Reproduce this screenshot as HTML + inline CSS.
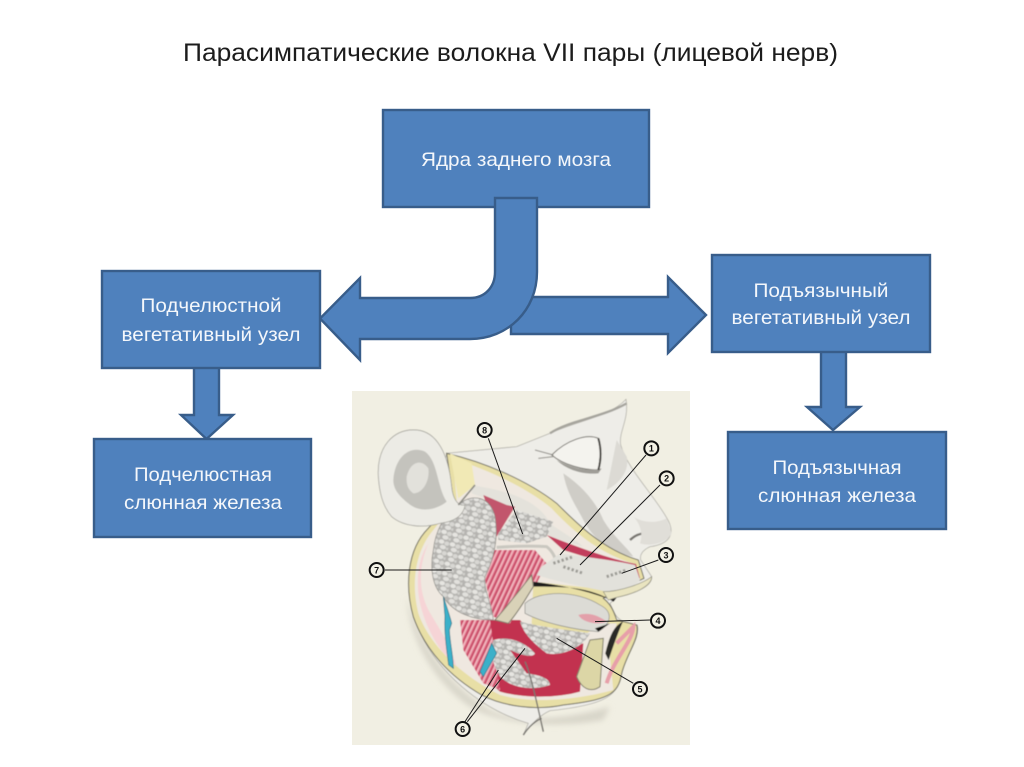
<!DOCTYPE html>
<html lang="ru">
<head>
<meta charset="utf-8">
<title>Парасимпатические волокна VII пары</title>
<style>
html,body{margin:0;padding:0;background:#fff;width:1024px;height:767px;overflow:hidden}
svg{display:block}
text{font-family:"Liberation Sans","DejaVu Sans",sans-serif}
.b{fill:#4f81bd;stroke:#385d8a;stroke-width:2.4}
.t{fill:#f4f7fb;font-size:19.500px;text-anchor:middle}
.n{font-size:27px;font-weight:bold;fill:#111;text-anchor:middle}
.c{fill:#f4f2e6;stroke:#111;stroke-width:6}
.l{stroke:#1a1a1a;stroke-width:3;fill:none}
</style>
</head>
<body>
<svg width="1024" height="767" viewBox="0 0 1024 767" xmlns="http://www.w3.org/2000/svg">
<defs>
<pattern id="g" width="34" height="30" patternUnits="userSpaceOnUse" patternTransform="rotate(15)">
<rect width="34" height="30" fill="#b5b4b0"/>
<ellipse cx="9" cy="8" rx="8.500" ry="6.500" fill="#e6e5e1"/>
<ellipse cx="26" cy="10" rx="7.500" ry="6.500" fill="#d8d7d3"/>
<ellipse cx="17" cy="23" rx="9.500" ry="6.500" fill="#e2e1dd"/>
<ellipse cx="32" cy="25" rx="5" ry="4" fill="#d2d1cd"/>
</pattern>
<pattern id="m" width="14" height="14" patternUnits="userSpaceOnUse" patternTransform="rotate(25)">
<rect width="14" height="14" fill="#d9607a"/>
<rect width="6" height="14" fill="#f0b4bc"/>
<rect x="10" width="2" height="14" fill="#b83a58"/>
</pattern>
<filter id="s"><feGaussianBlur stdDeviation="9"/></filter>
<filter id="bl"><feGaussianBlur stdDeviation="1.500"/></filter>
</defs>
<rect width="1024" height="767" fill="#fff"/>

<text x="510.500" y="61" fill="#1c1c1c" font-size="25px" text-anchor="middle" textLength="655" lengthAdjust="spacingAndGlyphs">Парасимпатические волокна VII пары  (лицевой нерв)</text>

<!-- top box -->
<rect class="b" x="383" y="110" width="266" height="97"/>
<text class="t" x="516" y="166" textLength="190" lengthAdjust="spacingAndGlyphs">Ядра заднего мозга</text>

<!-- right arrow -->
<path class="b" d="M511,297 H668 V277 L706,315 L668,353 V334 H511 Z"/>
<!-- bent left arrow -->
<path class="b" d="M495,198 H537 V272 C537,310 508,339 470,339 H360 V360 L320,318.500 L360,278 V298 H470 C485,298 495,287 495,272 Z"/>

<!-- left column -->
<path class="b" d="M194,367 H219 V415 H233 L206.500,439 L181,415 H194 Z"/>
<rect class="b" x="102" y="271" width="218" height="97"/>
<text class="t" x="211" y="312" textLength="141" lengthAdjust="spacingAndGlyphs">Подчелюстной</text>
<text class="t" x="211" y="341" textLength="179" lengthAdjust="spacingAndGlyphs">вегетативный узел</text>
<rect class="b" x="94" y="439" width="217" height="98"/>
<text class="t" x="203" y="481" textLength="138" lengthAdjust="spacingAndGlyphs">Подчелюстная</text>
<text class="t" x="203" y="509" textLength="158" lengthAdjust="spacingAndGlyphs">слюнная железа</text>

<!-- right column -->
<path class="b" d="M821,351 H846 V407 H860 L833,430 L807,407 H821 Z"/>
<rect class="b" x="712" y="255" width="218" height="97"/>
<text class="t" x="821" y="297" textLength="135" lengthAdjust="spacingAndGlyphs">Подъязычный</text>
<text class="t" x="821" y="324" textLength="179" lengthAdjust="spacingAndGlyphs">вегетативный узел</text>
<rect class="b" x="728" y="432" width="218" height="97"/>
<text class="t" x="837" y="474" textLength="129" lengthAdjust="spacingAndGlyphs">Подъязычная</text>
<text class="t" x="837" y="502" textLength="158" lengthAdjust="spacingAndGlyphs">слюнная железа</text>

<!-- illustration -->
<g transform="translate(350,390) scale(.33333)">
<rect x="6" y="3" width="1014" height="1062" fill="#f1efe3"/>
<g filter="url(#bl)">
<!-- soft shadow -->
<path d="M170,620 C220,800 320,900 420,960 C500,1000 650,990 780,950 L760,990 C620,1015 450,1005 360,950 C260,880 180,760 170,620Z" fill="#d8d5c9" filter="url(#s)"/>
<!-- face -->
<path d="M600,130 C690,90 780,80 828,28 C838,90 805,125 812,165 C835,240 900,300 948,380 C980,430 960,462 900,470 C878,480 868,495 872,510 L905,560 C908,590 850,612 800,622 L780,640 C795,675 800,690 835,700 L862,705 C872,745 830,790 815,850 C805,915 770,945 600,962 C570,975 545,1000 520,1035 L535,1000 C400,960 250,850 190,680 L290,190 L500,170 Z" fill="#eeede8" stroke="#a9a79f" stroke-width="2"/>
<path d="M700,390 C730,450 790,490 850,500 C830,470 790,440 760,390 C740,340 700,290 640,250 C650,310 680,350 700,390Z" fill="#cfcdc7"/>
<path d="M770,300 C810,280 840,240 830,200 L800,150 C790,200 780,250 770,300Z" fill="#dcdad4"/>
<path d="M840,450 C860,430 890,425 910,432" stroke="#77756f" stroke-width="7" fill="none"/>
<path d="M850,380 C880,400 920,400 950,385 L965,430 C950,460 900,470 870,460 C880,430 870,400 850,380Z" fill="#e0ded8"/>
<!-- eye -->
<path d="M605,195 C650,150 710,130 745,145 C755,180 750,210 745,240 C700,240 640,225 605,195Z" fill="#f4f3ee" stroke="#77756e" stroke-width="3"/>
<path d="M620,210 C670,235 710,245 755,235 L745,250 C700,255 650,240 620,210Z" fill="#9f9d97"/>
<path d="M745,145 C755,180 752,215 745,240" stroke="#44423e" stroke-width="6" fill="none"/>
<path d="M600,130 C660,90 750,85 830,40" stroke="#a6a49d" stroke-width="7" fill="none"/>
<path d="M555,180 L610,195 M565,205 L610,200" stroke="#8f8d87" stroke-width="3"/>
<!-- cavity -->
<path d="M290,190 C400,215 530,270 620,340 C680,400 760,480 865,510 L882,565 L780,612 L760,625 C780,640 790,660 800,690 L860,705 C870,745 830,790 815,850 C805,915 770,930 640,945 C560,962 460,950 395,915 C300,860 225,780 190,680 C165,590 170,480 235,415 L310,330 Z" fill="#e8dfa6" stroke="#6f6d60" stroke-width="3"/>
<path d="M308,205 C400,235 520,285 605,355 C660,415 750,495 858,522 L870,565 L780,600 L550,575 L545,700 L610,790 L760,700 L800,700 L780,800 L790,900 C700,925 560,945 450,915 C340,860 240,770 205,670 C185,590 190,490 250,420 L320,330 Z" fill="#efe8e0"/>
<!-- red lower area -->
<path d="M330,690 L510,690 L600,790 L700,760 L690,905 C620,925 520,925 450,905 C400,860 350,770 330,690Z" fill="#c2304f"/>
<!-- skin flap upper -->
<path d="M365,285 C450,300 560,320 600,400 C640,430 680,450 700,470 L600,440 C560,380 450,340 365,310Z" fill="#e4e2db"/>
<path d="M590,435 C680,470 770,505 858,522 L870,565 L800,530 L640,480Z" fill="#c23c5b"/>
<!-- skin left strip -->
<path d="M235,460 C205,530 205,600 235,660 L300,770 L320,830 C260,780 215,690 205,610 C200,540 210,500 235,460Z" fill="#f6d4d6"/>
<!-- muscle -->
<path d="M405,570 L430,480 L555,480 L590,520 L560,580 L530,600 L480,700 L430,680 Z" fill="url(#m)"/>
<path d="M400,315 L470,345 L495,350 L440,440 Z" fill="#c2566c"/>
<path d="M330,690 L420,690 L450,900 L400,880 L340,780 Z" fill="url(#m)"/>
<!-- accessory gland 8 -->
<path d="M445,430 L500,360 L610,395 L590,440 L530,460 L445,450Z" fill="url(#g)"/>
<!-- parotid 7 -->
<path d="M330,340 C370,310 420,320 435,380 C445,440 435,500 405,560 C400,600 425,640 430,690 C370,690 310,670 280,620 C245,590 240,530 250,480 C255,430 280,370 330,340Z" fill="url(#g)" stroke="#8b8a85" stroke-width="2"/>
<!-- duct -->
<path d="M440,472 C500,468 560,468 590,470 C610,485 615,505 622,522" stroke="#c9c7c0" stroke-width="9" fill="none"/>
<!-- upper gland / palate -->
<path d="M575,530 L630,490 C700,500 790,510 855,525 L870,570 C860,590 810,600 770,605 C700,590 620,575 560,555Z" fill="#e2e1db"/>
<path d="M640,530 L700,550 M770,560 L830,540 M610,520 L670,500" stroke="#9c9b95" stroke-width="9" stroke-dasharray="7 6" fill="none"/>
<path d="M550,575 C630,585 700,600 770,625 L800,622 L790,635 C720,590 640,590 550,590Z" fill="#1d1b1a"/>
<!-- lip -->
<path d="M760,605 C810,605 880,580 905,560 C905,590 850,612 800,622 L775,630Z" fill="#e9e4c0" stroke="#8c8a7b" stroke-width="2"/>
<!-- mandible ramus -->
<path d="M545,555 L550,590 C530,620 510,660 475,700 L435,690 C470,650 510,600 545,555Z" fill="#d9d2b8" stroke="#7e7b6c" stroke-width="3"/>
<!-- tongue -->
<path d="M525,640 C570,600 680,600 750,645 C790,665 785,700 745,725 C680,720 580,700 525,670Z" fill="#dcdbd5" stroke="#8b8a85" stroke-width="2"/>
<path d="M685,675 C720,665 750,680 770,695 C745,705 700,700 685,675Z" fill="#e3a0aa"/>
<!-- sublingual gland -->
<path d="M510,695 C570,710 650,720 720,730 C700,770 640,800 590,790 C550,760 520,730 510,695Z" fill="url(#g)"/>
<!-- submandibular gland 6 -->
<path d="M430,750 C480,735 530,760 555,790 C550,805 510,795 480,780 L530,850 C570,855 600,865 600,885 C560,900 490,900 450,860 C425,820 420,780 430,750Z" fill="url(#g)"/>
<!-- mandible front -->
<path d="M720,750 L760,745 L750,890 C720,910 695,895 680,860Z" fill="#dcd6a6" stroke="#807e6a" stroke-width="3"/>
<path d="M770,790 C780,750 790,720 810,705 C795,740 785,770 775,800Z" fill="#2b2927" stroke="#2b2927" stroke-width="8"/>
<path d="M735,715 L780,700 L745,725Z" fill="#111"/>
<path d="M800,760 L850,710 C850,750 790,810 770,880" stroke="#e79fa9" stroke-width="12" fill="none"/>
<!-- ear -->
<path d="M85,260 C80,170 130,115 200,120 C260,125 295,190 305,290 C308,320 320,350 345,345 C340,380 310,395 270,400 C220,415 160,410 125,380 C95,345 88,300 85,260Z" fill="#ecebe5" stroke="#9b9a93" stroke-width="2"/>
<path d="M130,270 C135,200 180,165 225,185 C265,215 260,290 290,335 C260,360 210,370 175,340 C150,320 130,300 130,270Z" fill="#c4c3bd"/>
<path d="M170,260 C180,215 215,205 235,235 C240,270 220,310 190,310 C175,300 168,285 170,260Z" fill="#e2e1db"/>
<path d="M300,190 L365,220 L375,285 L325,325 Z" fill="#f1e9b5"/>
<path d="M325,345 L375,285" stroke="#8d8c85" stroke-width="5"/>
<!-- blue vessels -->
<path d="M280,620 C290,650 300,680 305,700 L298,720 C300,760 310,800 310,835 L296,825 C290,780 282,720 285,680 Z" fill="#3bb0c9" stroke="#1d6c80" stroke-width="2"/>
<path d="M425,760 L440,790 L400,860 L390,845 Z" fill="#3bb0c9" stroke="#1d6c80" stroke-width="2"/>
<!-- probe -->
<path d="M525,815 C545,860 565,960 580,1025 M520,1035 C535,1010 560,990 575,985" stroke="#77756f" stroke-width="4" fill="none"/>
</g>
<!-- leader lines -->
<path class="l" d="M415,145 L518,432"/>
<path class="l" d="M888,195 L630,495"/>
<path class="l" d="M930,285 L690,525"/>
<path class="l" d="M925,510 L815,550"/>
<path class="l" d="M900,690 L735,695"/>
<path class="l" d="M850,880 L620,745"/>
<path class="l" d="M345,995 L445,840"/>
<path class="l" d="M352,995 L525,775"/>
<path class="l" d="M105,540 L305,540"/>
<!-- numbers -->
<circle class="c" cx="404" cy="120" r="21"/><text class="n" x="404" y="130">8</text>
<circle class="c" cx="904" cy="175" r="21"/><text class="n" x="904" y="185">1</text>
<circle class="c" cx="950" cy="265" r="21"/><text class="n" x="950" y="275">2</text>
<circle class="c" cx="948" cy="495" r="21"/><text class="n" x="948" y="505">3</text>
<circle class="c" cx="924" cy="692" r="21"/><text class="n" x="924" y="702">4</text>
<circle class="c" cx="870" cy="897" r="21"/><text class="n" x="870" y="907">5</text>
<circle class="c" cx="338" cy="1017" r="21"/><text class="n" x="338" y="1027">6</text>
<circle class="c" cx="80" cy="540" r="21"/><text class="n" x="80" y="550">7</text>
</g>
</svg>
</body>
</html>
